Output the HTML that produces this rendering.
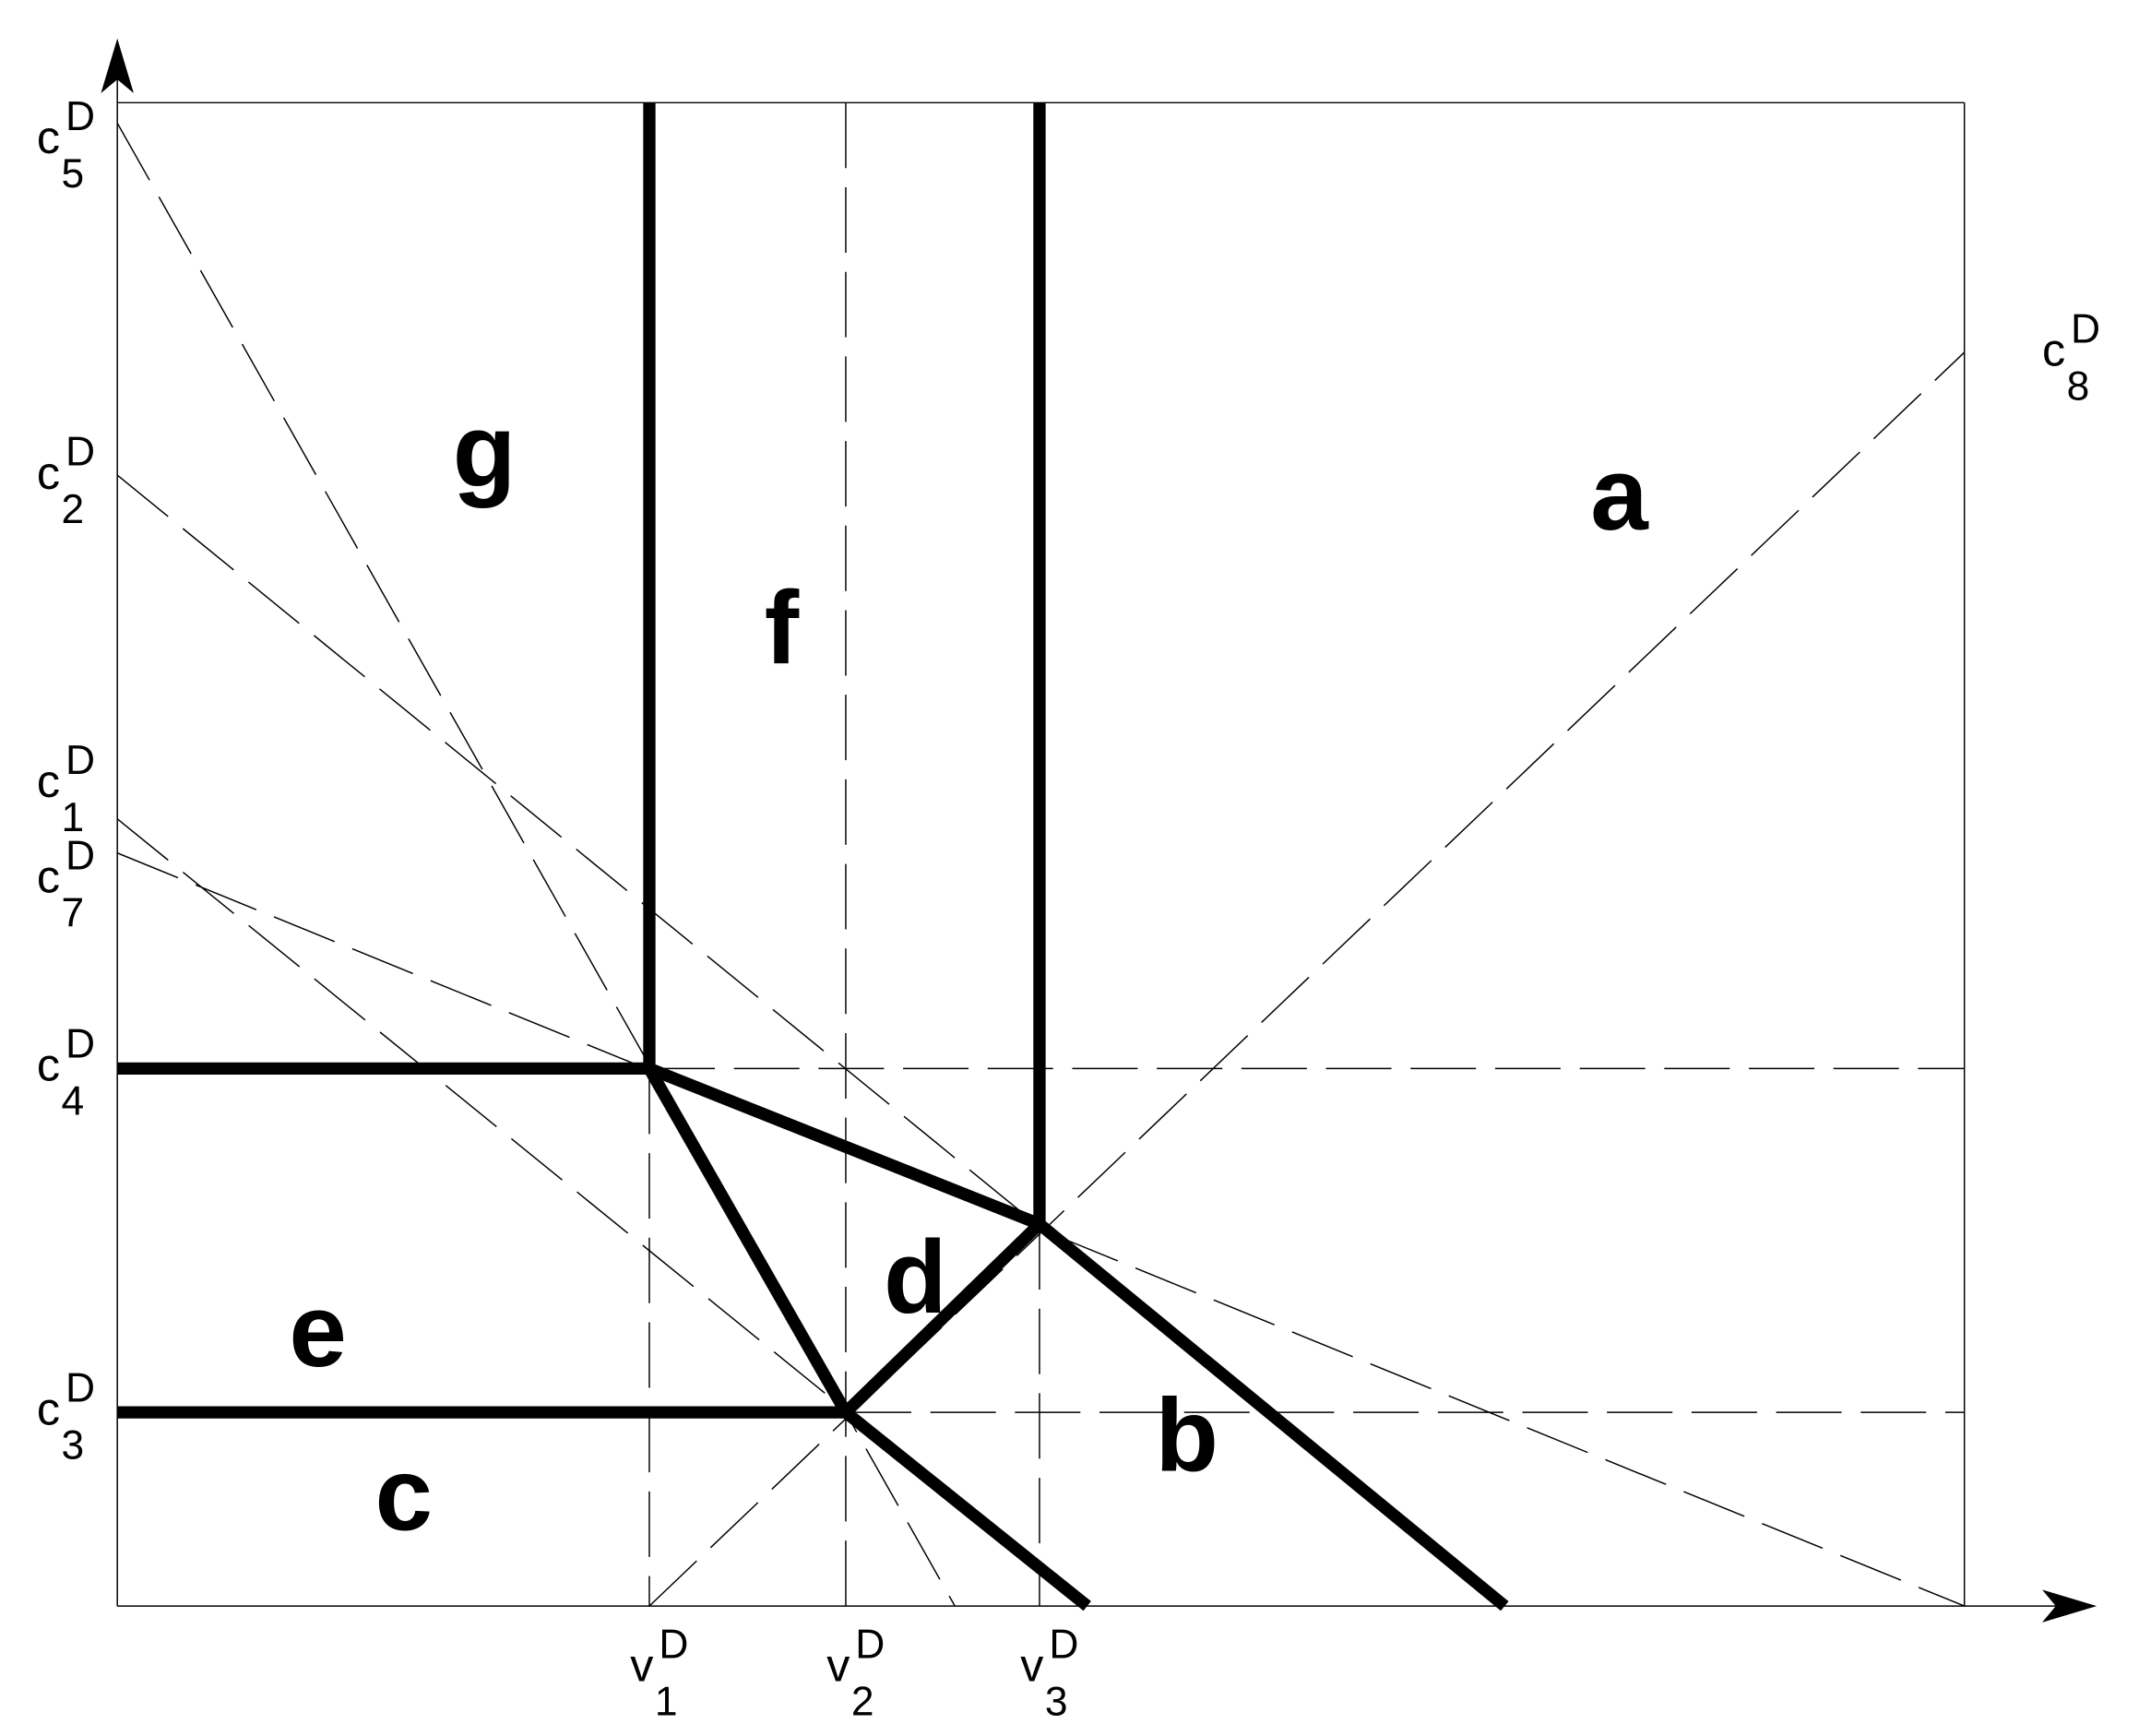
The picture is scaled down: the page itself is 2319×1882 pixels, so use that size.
<!DOCTYPE html>
<html><head><meta charset="utf-8"><style>html,body{margin:0;padding:0;background:#fff}svg{display:block}</style></head>
<body>
<svg width="2319" height="1882" viewBox="0 0 1568 1272" xmlns="http://www.w3.org/2000/svg" font-family="Liberation Sans, sans-serif">
<rect width="1568" height="1272" fill="#fff"/>
<g stroke="#000" stroke-width="1" fill="none">
<line x1="86" y1="75" x2="1440" y2="75"/>
<line x1="1440" y1="75" x2="1440" y2="1177"/>
<line x1="86" y1="40" x2="86" y2="1177"/>
<line x1="86" y1="1177" x2="1525" y2="1177"/>
</g>
<polygon points="86,28 74,68 86,58 98,68" fill="#000"/>
<polygon points="1537,1177 1497,1165 1507,1177 1497,1189" fill="#000"/>
<g stroke="#000" stroke-width="1" fill="none" stroke-dasharray="48,14">
<line x1="620" y1="75" x2="620" y2="1177"/>
<line x1="476" y1="783" x2="476" y2="1177"/>
<line x1="762" y1="897" x2="762" y2="1177"/>
<line x1="476" y1="783" x2="1440" y2="783"/>
<line x1="620" y1="1035" x2="1440" y2="1035"/>
<line x1="86" y1="90" x2="700" y2="1177"/>
<line x1="86" y1="348" x2="1103" y2="1177"/>
<line x1="86" y1="600" x2="797" y2="1177"/>
<line x1="86" y1="625" x2="1440" y2="1177"/>
<line x1="476" y1="1177" x2="1440" y2="258"/>
</g>
<g stroke="#000" stroke-width="9" fill="none">
<line x1="476" y1="75" x2="476" y2="783"/>
<line x1="762" y1="75" x2="762" y2="897"/>
<line x1="86" y1="783" x2="476" y2="783"/>
<line x1="86" y1="1035" x2="620" y2="1035"/>
<line x1="476" y1="783" x2="762" y2="897"/>
<line x1="476" y1="783" x2="620" y2="1035"/>
<line x1="620" y1="1035" x2="762" y2="897"/>
<line x1="762" y1="897" x2="1103" y2="1177"/>
<line x1="620" y1="1035" x2="797" y2="1177"/>
</g>
<g font-weight="bold" font-size="76" fill="#000" text-anchor="middle">
<text x="355" y="356">g</text>
<text x="573" y="486">f</text>
<text x="1187" y="388">a</text>
<text x="671" y="962">d</text>
<text x="233" y="1001">e</text>
<text x="296" y="1121">c</text>
<text x="870" y="1078">b</text>
</g>
<g font-size="34" fill="#000">
<text x="27" y="112">c</text><text x="48" y="95" font-size="30">D</text><text x="45" y="137" font-size="30">5</text>
<text x="27" y="358">c</text><text x="48" y="341" font-size="30">D</text><text x="45" y="383" font-size="30">2</text>
<text x="27" y="584">c</text><text x="48" y="567" font-size="30">D</text><text x="45" y="609" font-size="30">1</text>
<text x="27" y="654">c</text><text x="48" y="637" font-size="30">D</text><text x="45" y="679" font-size="30">7</text>
<text x="27" y="792">c</text><text x="48" y="775" font-size="30">D</text><text x="45" y="817" font-size="30">4</text>
<text x="27" y="1044">c</text><text x="48" y="1027" font-size="30">D</text><text x="45" y="1069" font-size="30">3</text>
<text x="1497" y="268">c</text><text x="1518" y="251" font-size="30">D</text><text x="1515" y="293" font-size="30">8</text>
<text x="462" y="1232">v</text><text x="483" y="1215" font-size="30">D</text><text x="480" y="1257" font-size="30">1</text>
<text x="606" y="1232">v</text><text x="627" y="1215" font-size="30">D</text><text x="624" y="1257" font-size="30">2</text>
<text x="748" y="1232">v</text><text x="769" y="1215" font-size="30">D</text><text x="766" y="1257" font-size="30">3</text>
</g>
</svg>
</body></html>
